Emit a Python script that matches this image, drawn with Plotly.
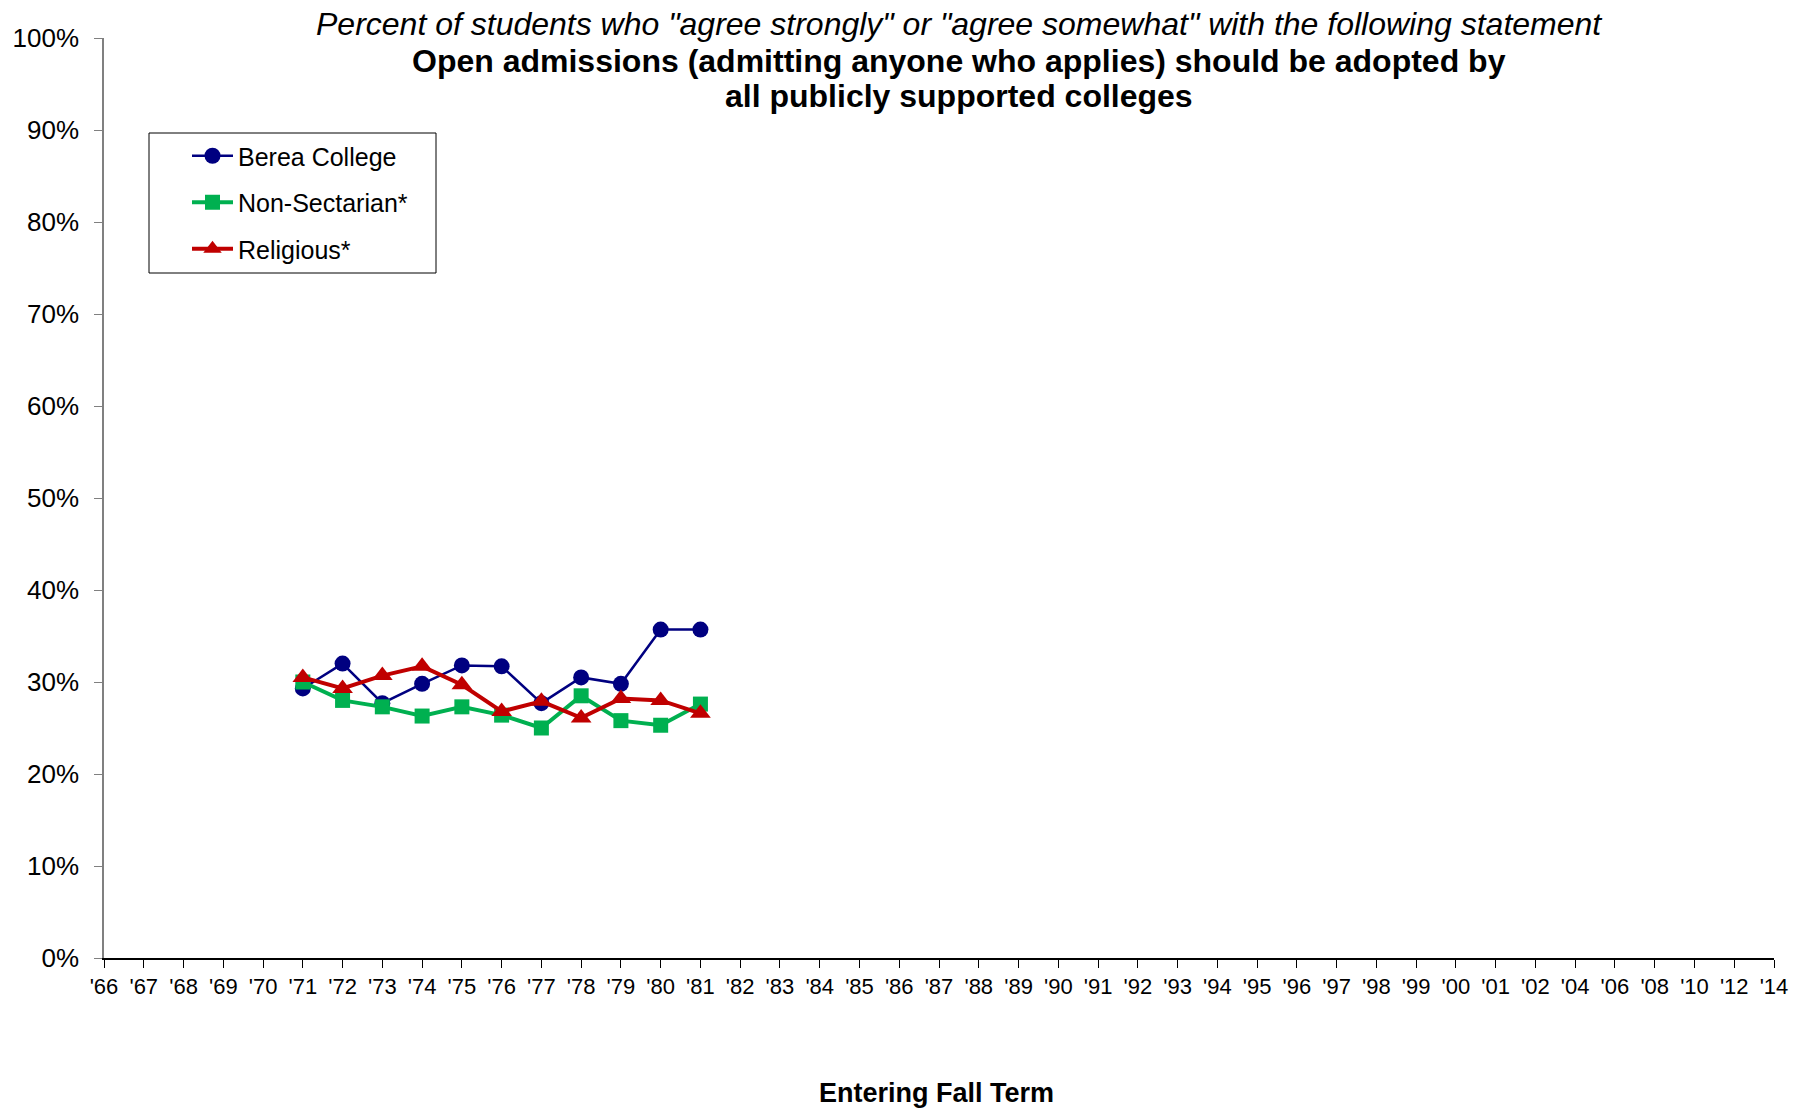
import plotly.graph_objects as go

categories = ["'66", "'67", "'68", "'69", "'70", "'71", "'72", "'73", "'74", "'75", "'76",
              "'77", "'78", "'79", "'80", "'81", "'82", "'83", "'84", "'85", "'86", "'87",
              "'88", "'89", "'90", "'91", "'92", "'93", "'94", "'95", "'96", "'97", "'98",
              "'99", "'00", "'01", "'02", "'04", "'06", "'08", "'10", "'12", "'14"]

years = ["'71", "'72", "'73", "'74", "'75", "'76", "'77", "'78", "'79", "'80", "'81"]
berea = [29.3, 32.0, 27.7, 29.8, 31.8, 31.7, 27.7, 30.5, 29.8, 35.7, 35.7]
nonsect = [30.0, 28.0, 27.3, 26.3, 27.3, 26.4, 25.0, 28.5, 25.8, 25.3, 27.6]
religious = [30.5, 29.3, 30.7, 31.7, 29.7, 26.8, 27.9, 26.1, 28.2, 28.0, 26.6]

y_ticks = [0, 10, 20, 30, 40, 50, 60, 70, 80, 90, 100]

FONT = "Liberation Sans, Arial, sans-serif"

# plot area in pixels
L, R, T, B = 104, 1774, 38, 958
W, H = R - L, B - T


def px_x(v):
    return (v - L) / W


def px_y(v):
    return (B - v) / H


fig = go.Figure()
fig.add_trace(go.Scatter(x=years, y=berea, name="Berea College", mode="lines+markers",
                         line=dict(color="#000080", width=2.5),
                         marker=dict(symbol="circle", size=16, color="#000080"),
                         legendgroup="a"))
fig.add_trace(go.Scatter(x=years, y=nonsect, name="Non-Sectarian*", mode="lines+markers",
                         line=dict(color="#00B050", width=4),
                         marker=dict(symbol="square", size=15, color="#00B050"),
                         legendgroup="b"))
fig.add_trace(go.Scatter(x=years, y=religious, name="Religious*", mode="lines+markers",
                         line=dict(color="#C00000", width=4),
                         marker=dict(symbol="triangle-up", size=18, color="#C00000"),
                         legendgroup="c"))

fig.update_layout(
    width=1812, height=1108,
    margin=dict(l=L, r=1812 - R, t=T, b=1108 - B, autoexpand=False),
    paper_bgcolor="white", plot_bgcolor="white",
    font=dict(family=FONT, color="black", size=22),
    showlegend=True,
    legend=dict(x=px_x(187), y=px_y(133), xanchor="left", yanchor="top",
                borderwidth=0, bgcolor="rgba(0,0,0,0)",
                font=dict(size=25, family=FONT), tracegroupgap=11,
                traceorder="grouped", itemwidth=41),
    xaxis=dict(type="category", categoryorder="array", categoryarray=categories,
               range=[0, len(categories) - 1], showgrid=False, zeroline=False,
               showline=True, linecolor="black", linewidth=1.5,
               ticks="outside", ticklen=8, tickcolor="black",
               tickmode="array", tickvals=categories, ticktext=categories,
               tickfont=dict(size=22, family=FONT), tickangle=0, automargin=False),
    yaxis=dict(range=[0, 100], showgrid=False, zeroline=False,
               showline=True, linecolor="#808080", linewidth=1.5,
               ticks="outside", ticklen=8, tickcolor="#808080",
               tickvals=y_ticks, ticktext=[f"{v}%" for v in y_ticks],
               tickfont=dict(size=26, family=FONT), ticklabelstandoff=10,
               automargin=False),
)

# legend frame
fig.add_shape(type="rect", xref="paper", yref="paper",
              x0=px_x(149), x1=px_x(436), y0=px_y(273), y1=px_y(133),
              line=dict(color="black", width=1), fillcolor="rgba(0,0,0,0)")

cx = px_x(959)
fig.add_annotation(text='<i>Percent of students who "agree strongly" or "agree somewhat" with the following statement</i>',
                   xref="paper", yref="paper", x=cx, y=px_y(24),
                   xanchor="center", yanchor="middle", showarrow=False,
                   font=dict(size=32, family=FONT))
fig.add_annotation(text="<b>Open admissions (admitting anyone who applies) should be adopted by</b>",
                   xref="paper", yref="paper", x=cx, y=px_y(61),
                   xanchor="center", yanchor="middle", showarrow=False,
                   font=dict(size=32, family=FONT))
fig.add_annotation(text="<b>all publicly supported colleges</b>",
                   xref="paper", yref="paper", x=cx, y=px_y(96),
                   xanchor="center", yanchor="middle", showarrow=False,
                   font=dict(size=32, family=FONT))
fig.add_annotation(text="<b>Entering Fall Term</b>",
                   xref="paper", yref="paper", x=px_x(936), y=px_y(1093),
                   xanchor="center", yanchor="middle", showarrow=False,
                   font=dict(size=27, family=FONT))

fig.write_html("out.html", config={"displayModeBar": False},
               post_script="document.body.style.margin='0';document.body.style.overflow='hidden';")
